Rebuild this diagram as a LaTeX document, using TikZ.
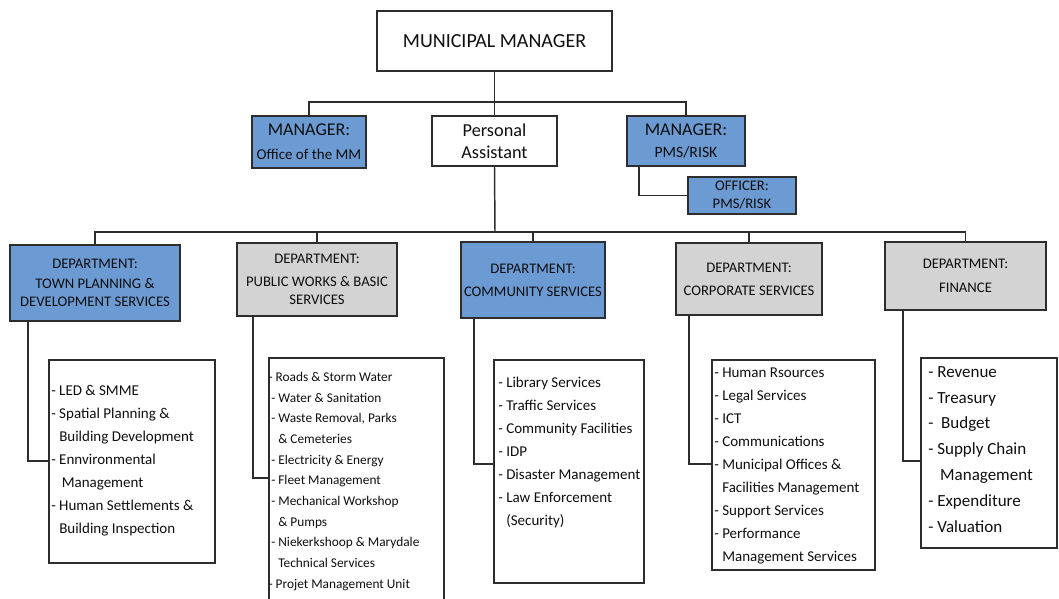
\documentclass[tikz,border=0pt]{standalone}
\usepackage{fontspec}
\setmainfont{Carlito}
\usetikzlibrary{fit}
\definecolor{deptblue}{RGB}{108,154,211}
\definecolor{deptgray}{RGB}{211,211,211}
\definecolor{linec}{RGB}{45,45,45}
\definecolor{txt}{RGB}{15,15,15}
\begin{document}
\begin{tikzpicture}[x=0.75pt,y=-0.75pt,
  box/.style={draw=linec, line width=1.1pt, inner sep=0pt},
  bluebox/.style={box, fill=deptblue},
  graybox/.style={box, fill=deptgray},
  whitebox/.style={box, fill=white},
  intext/.style={inner sep=0pt, align=center, text=txt},
  conn/.style={draw=linec, line width=1.1pt},
  hdr/.style={intext, font=\fontsize{11}{13.5}\selectfont},
  listtext/.style={inner sep=0pt, align=left, anchor=north west, text=txt, font=\fontsize{11.25}{17.25}\selectfont}
]
\useasboundingbox (0,0) rectangle (1059,599);

% top level boxes
\node[whitebox, fit={(377,11) (612,71)}] (mm) {};
\node[bluebox, fit={(252,116) (366,168)}] (mo) {};
\node[whitebox, fit={(432,116) (557,166)}] (pa) {};
\node[bluebox, fit={(627,116) (745,166)}] (pms) {};
\node[bluebox, fit={(688,177) (796,214)}] (off) {};

\node[intext, font=\fontsize{15}{18}\selectfont] (mmt) at (mm.center) {MUNICIPAL MANAGER};
\node[intext, font=\fontsize{11.25}{18}\selectfont] (mot) at (mo.center) {{\fontsize{13.5}{18}\selectfont MANAGER:}\\Office of the MM};
\node[intext, font=\fontsize{13.7}{16.5}\selectfont] (pat) at (pa.center) {Personal\\Assistant};
\node[intext, font=\fontsize{11.8}{16.5}\selectfont] (pmst) at (pms.center) {{\fontsize{13.5}{16.5}\selectfont MANAGER:}\\PMS/RISK};
\node[intext, font=\fontsize{11}{13.5}\selectfont] (offt) at (off.center) {OFFICER:\\PMS/RISK};

% departments
\node[bluebox, fit={(10,245) (180,321)}] (tp) {};
\node[graybox, fit={(237,243) (397,316)}] (pw) {};
\node[bluebox, fit={(461,242) (605,318)}] (com) {};
\node[graybox, fit={(676,243) (822,315)}] (corp) {};
\node[graybox, fit={(885,242) (1046,310)}] (fin) {};

\node[hdr] (tpt0) at (tp.center) {DEPARTMENT:\\[1.5pt]TOWN PLANNING \&\\DEVELOPMENT SERVICES};
\node[hdr] (pwt0) at (pw.center) {DEPARTMENT:\\[3.75pt]PUBLIC WORKS \& BASIC\\SERVICES};
\node[hdr] (comt0) at (com.center) {DEPARTMENT:\\[3.75pt]COMMUNITY SERVICES};
\node[hdr] (corpt0) at (corp.center) {DEPARTMENT:\\[3.75pt]CORPORATE SERVICES};
\node[hdr] (fint0) at (fin.center) {DEPARTMENT:\\[4.5pt]FINANCE};

% list boxes
\node[whitebox, fit={(49,360) (215,563)}] (tpl) {};
\node[whitebox, fit={(269,358) (444,610)}] (pwl) {};
\node[whitebox, fit={(494,360) (644,583)}] (coml) {};
\node[whitebox, fit={(712,360) (875,570)}] (corpl) {};
\node[whitebox, fit={(921,358) (1057,548)}] (finl) {};

\node[listtext] (tpt) at (51,385) {- LED \& SMME\\- Spatial Planning \&\\\phantom{- }Building Development\\- Ennvironmental\\\phantom{- }\,Management\\- Human Settlements \&\\\phantom{- }Building Inspection};
\node[listtext, font=\fontsize{10}{15.5}\selectfont] (pwt) at (271,372) {\hspace*{-2pt}- Roads \& Storm Water\\- Water \& Sanitation\\- Waste Removal, Parks\\\phantom{- }\& Cemeteries\\- Electricity \& Energy\\- Fleet Management\\- Mechanical Workshop\\\phantom{- }\& Pumps\\- Niekerkshoop \& Marydale\\\phantom{- }Technical Services\\\hspace*{-2pt}- Projet Management Unit};
\node[listtext] (comt) at (498,377) {- Library Services\\- Traffic Services\\- Community Facilities\\- IDP\\- Disaster Management\\- Law Enforcement\\\phantom{- }(Security)};
\node[listtext] (corpt) at (714,368) {- Human Rsources\\- Legal Services\\- ICT\\- Communications\\- Municipal Offices \&\\\phantom{- }Facilities Management\\- Support Services\\- Performance\\\phantom{- }Management Services};
\node[listtext, font=\fontsize{12.75}{19.4}\selectfont] (fint) at (928,366) {- Revenue\\- Treasury\\-\ \ Budget\\- Supply Chain\\\phantom{- }\,Management\\- Expenditure\\- Valuation};

% connectors top
\coordinate (j1) at (495,102);
\coordinate (j2) at (495,232);
\draw[conn] (mm.south) -- (pa.north);
\draw[conn] (mo.north) -- (mo.north |- j1) -- (pms.north |- j1) -- (pms.north);
\coordinate (e1) at (639,195);
\draw[conn] (pms.south -| e1) |- (off.west);
\draw[conn] (pa.south) -- (j2);
\draw[conn] (tp.north) -- (tp.north |- j2) -- (fin.north |- j2) -- (fin.north);
\draw[conn] (pw.north) -- (pw.north |- j2);
\draw[conn] (com.north) -- (com.north |- j2);
\draw[conn] (corp.north) -- (corp.north |- j2);

% connectors to lists
\coordinate (k1) at (28,461);
\coordinate (k2) at (253,478);
\coordinate (k3) at (474,464);
\coordinate (k4) at (689,464);
\coordinate (k5) at (903,461);
\draw[conn] (tp.south -| k1) |- (tpl.west |- k1);
\draw[conn] (pw.south -| k2) |- (pwl.west |- k2);
\draw[conn] (com.south -| k3) |- (coml.west |- k3);
\draw[conn] (corp.south -| k4) |- (corpl.west |- k4);
\draw[conn] (fin.south -| k5) |- (finl.west |- k5);
\end{tikzpicture}
\end{document}
